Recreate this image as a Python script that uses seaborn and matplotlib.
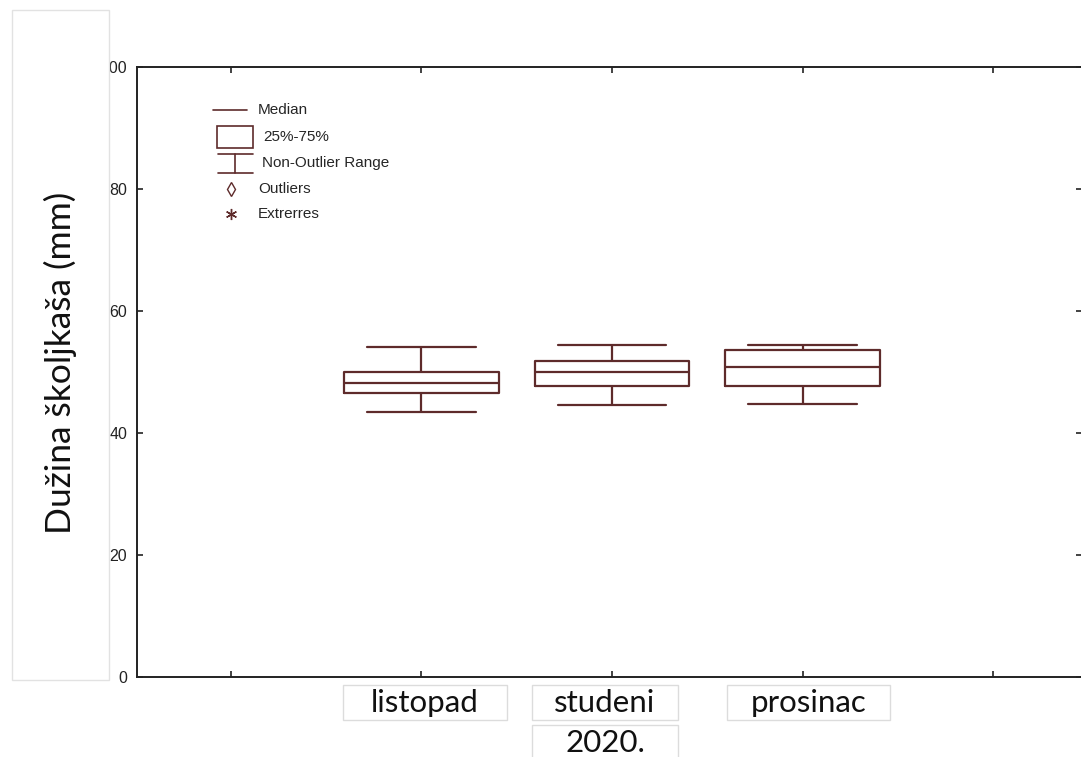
import matplotlib
matplotlib.use("Agg")
import matplotlib.pyplot as plt
from matplotlib.patches import Rectangle
from matplotlib.lines import Line2D
import seaborn as sns
import pandas as pd
import numpy as np

# ---- data (five-number summaries) ----
months = ["listopad", "studeni", "prosinac"]
min_vals = [43.5, 44.6, 44.8]
q1_vals = [46.6, 47.7, 47.7]
median_vals = [48.2, 50.0, 50.9]
q3_vals = [50.0, 51.8, 53.6]
max_vals = [54.1, 54.5, 54.5]
year_label = "2020."
y_label = "Dužina školjkaša (mm)"
y_ticks = [0, 20, 40, 60, 80, 100]
legend_items = ["Median", "25%-75%", "Non-Outlier Range", "Outliers", "Extrerres"]

rows = []
for m, a, b, c, d, e in zip(months, min_vals, q1_vals, median_vals, q3_vals, max_vals):
    for v in (a, b, c, d, e):
        rows.append({"month": m, "len": v})
df = pd.DataFrame(rows)

W, H = 1081, 757
LINE = "#5e2b2b"
NARROW = ["Liberation Sans", "DejaVu Sans"]
SOFT = ["Lato", "Open Sans", "DejaVu Sans"]

sns.set_style("white")
plt.rcParams["font.family"] = NARROW

fig = plt.figure(figsize=(W / 100, H / 100), dpi=100)
fig.patch.set_facecolor("white")

def fx(x):
    return x / W

def fy(y):
    return 1 - y / H

ax = fig.add_axes([fx(137), fy(677), fx(1082) - fx(137), fy(67) - fy(677)])

kw = dict(data=df, x="month", y="len", order=months, fill=False, color=LINE,
          linewidth=1.6, width=0.81, whis=(0, 100), ax=ax)
try:
    sns.boxplot(capwidths=0.57, **kw)
except Exception:
    ax.cla()
    sns.boxplot(**kw)

ax.set_xlim(-1.493, 3.467)
ax.set_ylim(0, 100)
ax.set_xticks([-1, 0, 1, 2, 3])
ax.set_xticklabels([])
ax.set_yticks(y_ticks)
ax.set_yticklabels([str(t) for t in y_ticks])
ax.set_xlabel("")
ax.set_ylabel("")
ax.tick_params(axis="both", direction="in", length=4, width=1.2, color="#222222",
               top=True, right=True, bottom=True, left=True)
ax.tick_params(axis="y", labelsize=11.5, pad=7, labelcolor="#222222")
for s in ax.spines.values():
    s.set_visible(True)
    s.set_color("#222222")
    s.set_linewidth(1.4)

# ---- legend (drawn in figure pixels) ----
LFS = 11
lc = dict(color=LINE, lw=1.2, transform=fig.transFigure)
fig.add_artist(Line2D([fx(213), fx(247)], [fy(110), fy(110)], **lc))
fig.text(fx(258), fy(110), legend_items[0], fontsize=LFS, va="center", ha="left", family=NARROW)
fig.add_artist(Rectangle((fx(217), fy(148)), fx(253) - fx(217), fy(126) - fy(148),
                         fill=False, edgecolor=LINE, lw=1.2, transform=fig.transFigure))
fig.text(fx(263), fy(137), legend_items[1], fontsize=LFS, va="center", ha="left", family=NARROW)
fig.add_artist(Line2D([fx(218), fx(253)], [fy(154), fy(154)], **lc))
fig.add_artist(Line2D([fx(218), fx(253)], [fy(173), fy(173)], **lc))
fig.add_artist(Line2D([fx(235), fx(235)], [fy(154), fy(173)], **lc))
fig.text(fx(262), fy(163), legend_items[2], fontsize=LFS, va="center", ha="left", family=NARROW)
fig.add_artist(Line2D([fx(231)], [fy(189)], marker="d", markersize=7, markerfacecolor="none",
                      markeredgecolor=LINE, markeredgewidth=1.0, transform=fig.transFigure))
fig.text(fx(258), fy(189), legend_items[3], fontsize=LFS, va="center", ha="left", family=NARROW)
fig.add_artist(Line2D([fx(231)], [fy(214)], marker=(6, 2, 0), markersize=8,
                      markeredgecolor=LINE, markeredgewidth=1.0, transform=fig.transFigure))
fig.text(fx(258), fy(214), legend_items[4], fontsize=LFS, va="center", ha="left", family=NARROW)

# ---- y label box (covers the clipped "1" of 100 like the reference) ----
fig.add_artist(Rectangle((fx(12), fy(680)), fx(109) - fx(12), fy(10) - fy(680),
                         facecolor="white", edgecolor="#e2e2e2", lw=1.0,
                         transform=fig.transFigure, zorder=10))
fig.text(fx(60), fy(363), y_label, rotation=90, fontsize=25.5, va="center", ha="center",
         family=SOFT, color="#111111", zorder=11)

# ---- category label boxes ----
boxes = [(343, 507), (532, 678), (727, 890)]
for (x0, x1), name in zip(boxes, months):
    fig.add_artist(Rectangle((fx(x0), fy(720)), fx(x1) - fx(x0), fy(685) - fy(720),
                             facecolor="white", edgecolor="#dcdcdc", lw=1.0,
                             transform=fig.transFigure))
    fig.text(fx((x0 + x1) / 2), fy(703), name, fontsize=22.5, va="center", ha="center",
             family=SOFT, color="#111111")
fig.add_artist(Rectangle((fx(532), fy(760)), fx(678) - fx(532), fy(725) - fy(760),
                         facecolor="white", edgecolor="#dcdcdc", lw=1.0,
                         transform=fig.transFigure))
fig.text(fx(605), fy(743), year_label, fontsize=22.5, va="center", ha="center",
         family=SOFT, color="#111111")

fig.savefig("out.png", dpi=100)
